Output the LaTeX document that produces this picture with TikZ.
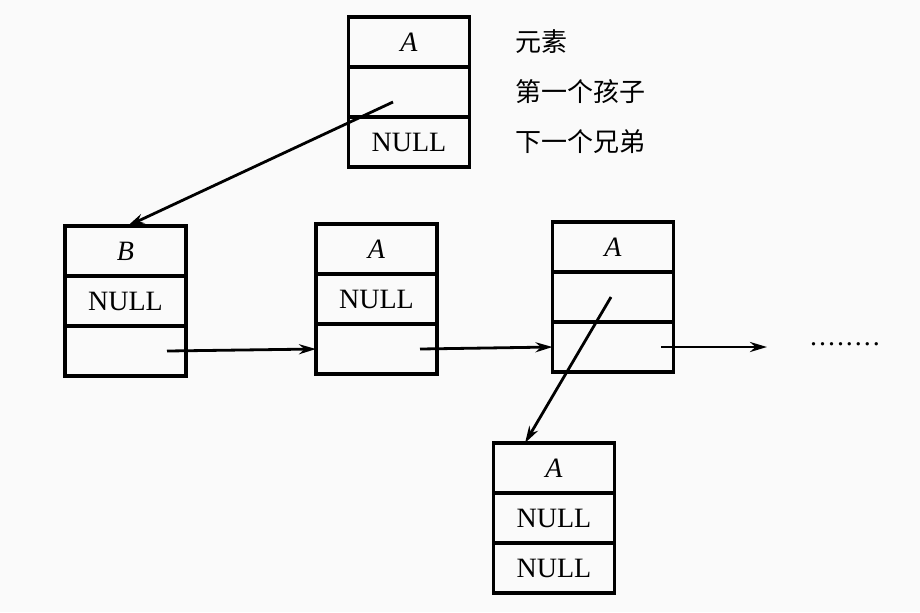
\documentclass[tikz,border=0pt]{standalone}
\usepackage{fontspec}
\setmainfont{Liberation Serif}
\newfontfamily\cjk{Noto Sans CJK SC}
\newfontfamily\dotfont[LetterSpace=7]{Liberation Serif}
\usepackage{tikz}
\usetikzlibrary{positioning}
\usetikzlibrary{arrows.meta}

\begin{document}
\begin{tikzpicture}[x=0.5pt, y=-0.5pt,
        >={Stealth[length=8.5pt, width=5pt]},
        cell/.style={draw, line width=1.6pt, minimum width=60.5pt, minimum height=25pt,
            inner sep=0pt, outer sep=0pt, font=\fontsize{14}{14}\selectfont},
        lbl/.style={inner sep=0pt, font=\cjk\fontsize{13}{13}\selectfont},
        link/.style={->, line width=1.4pt}]
            \useasboundingbox[fill=gray!4] (0, 0) rectangle (920, 612);

            % node with its three fields
            \node[cell] (t1) at (409, 42) {\textit{A}};
            \node[cell, below=0pt of t1] (t2) {};
            \node[cell, below=0pt of t2] (t3) {NULL};
            \node[lbl, right=23pt of t1] (e) {元素};
            \node[lbl, right=23pt of t2] (fc) {第一个孩子};
            \node[lbl, right=23pt of t3] (ns) {下一个兄弟};

            % its children
            \node[cell] (b1) at (125.5, 251) {\textit{B}};
            \node[cell, below=0pt of b1] (b2) {NULL};
            \node[cell, below=0pt of b2] (b3) {};

            \node[cell] (c1) at (376.5, 249) {\textit{A}};
            \node[cell, below=0pt of c1] (c2) {NULL};
            \node[cell, below=0pt of c2] (c3) {};

            \node[cell] (d1) at (613, 247) {\textit{A}};
            \node[cell, below=0pt of d1] (d2) {};
            \node[cell, below=0pt of d2] (d3) {};

            \node[inner sep=0pt, anchor=base, font=\dotfont\fontsize{14}{14}\selectfont]
                (more) at (845, 345) {........};

            \node[cell] (g1) at (554, 468) {\textit{A}};
            \node[cell, below=0pt of g1] (g2) {NULL};
            \node[cell, below=0pt of g2] (g3) {NULL};

            % pointers
            \coordinate (t2s) at ([xshift=-8pt, yshift=-5pt]t2.center);
            \coordinate (b1e) at ([xshift=1pt]b1.north);
            \coordinate (b3s) at ([xshift=20.75pt]b3.center);
            \coordinate (c3s) at ([xshift=21.75pt]c3.center);
            \coordinate (d3s) at ([xshift=24pt]d3.center);
            \coordinate (d3e) at ([xshift=77pt]d3.center);
            \coordinate (d2s) at ([xshift=-1pt]d2.center);
            \coordinate (g1e) at ([xshift=-14.5pt]g1.north);

            \draw[link] (t2s) to (b1e);
            \draw[link] (b3s) to (c3.west);
            \draw[link] (c3s) to (d3.west);
            \draw[link] (d3s) to (d3e);
            \draw[link] (d2s) to (g1e);
        \end{tikzpicture}
\end{document}
